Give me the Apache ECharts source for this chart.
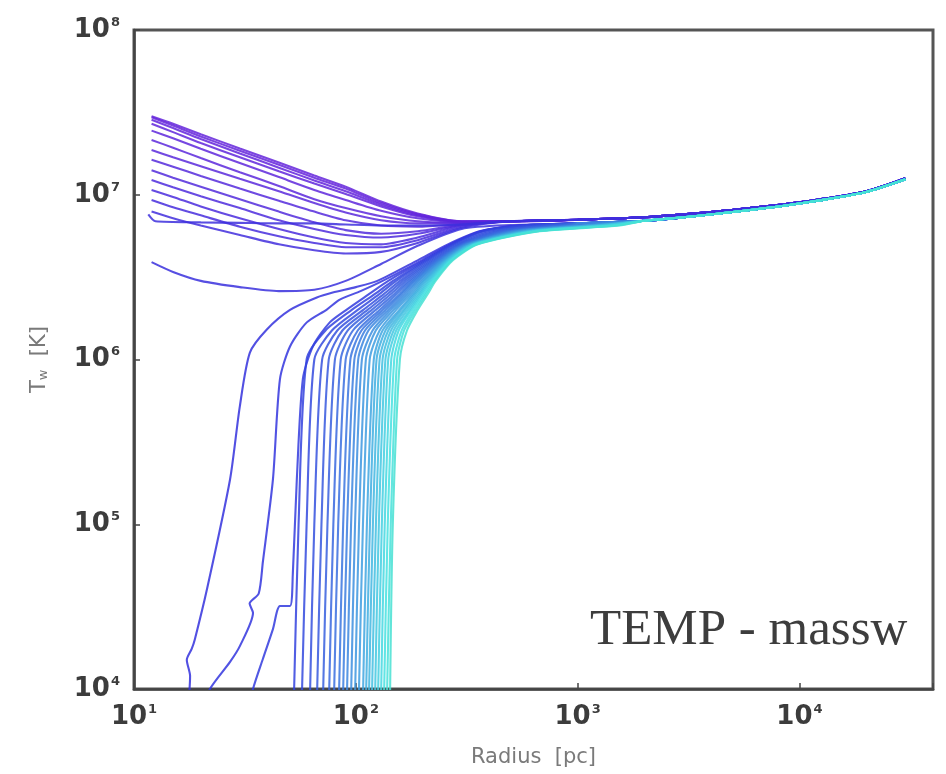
<!DOCTYPE html>
<html><head><meta charset="utf-8">
<script src="https://cdn.jsdelivr.net/npm/echarts@6/dist/echarts.min.js"></script>
<style>html,body{margin:0;padding:0;background:#fff}#c{width:946px;height:774px}</style>
</head><body><div id="c"></div>
<script>
// ---------- data (radius in pc, temperature in K; fan/outer T in units of 1e6 K) ----------
const FAN_R = [12, 15, 20, 30, 45, 65, 90, 130, 190, 300];
const FAN_T = [
  [30,   27,   23.3, 19.1, 15.7, 13.1, 11.2, 9.1, 7.7, 6.9],
  [29.5, 26.3, 22.6, 18.5, 15.2, 12.7, 10.9, 8.9, 7.6, 6.9],
  [28.5, 25.4, 21.8, 17.8, 14.6, 12.2, 10.5, 8.7, 7.5, 6.85],
  [27,   24,   20.6, 16.9, 13.9, 11.7, 10.1, 8.5, 7.4, 6.85],
  [24.5, 22,   19,   15.6, 12.8, 10.7, 9.3,  8.0, 7.2, 6.8],
  [21.5, 19.3, 16.7, 13.7, 11.3, 9.4,  8.3,  7.4, 6.9, 6.75],
  [18.7, 16.9, 14.9, 12.5, 10.5, 8.9,  7.8,  7.0, 6.7, 6.7],
  [16.3, 14.8, 13.0, 10.9, 9.2,  7.9,  7.0,  6.5, 6.4, 6.65],
  [14.1, 12.7, 11.2, 9.4,  7.9,  6.8,  6.1,  5.8, 6.0, 6.6],
  [12.3, 11.1, 9.8,  8.3,  7.0,  6.2,  5.7,  5.5, 5.8, 6.55],
  [10.7, 9.7,  8.5,  7.2,  6.2,  5.5,  5.1,  5.0, 5.5, 6.5],
  [9.3,  8.4,  7.5,  6.4,  5.6,  5.1,  4.8,  4.8, 5.3, 6.4],
  [7.9,  7.2,  6.5,  5.7,  5.0,  4.6,  4.4,  4.5, 5.1, 6.3]
];
const FLAT_R = [11.6, 12.5, 20, 30, 45, 65, 90, 130, 190, 300];
const FLAT_T = [7.6, 6.9, 6.8, 6.75, 6.7, 6.7, 6.6, 6.5, 6.5, 6.6];
const LOW_T  = [3.9, 3.4, 3.0, 2.75, 2.6, 2.65, 3.0, 3.8, 4.9, 6.2];   // on FAN_R

// first three collapsing profiles, [radius, T]
const DROP_A = [[17.6,8e3],[17.9,1.2e4],[17.3,1.5e4],[18.2,1.75e4],[18.8,2.0e4],[21.3,4.0e4],[27.1,1.87e5],[30.0,5.2e5],[33.3,1.1e6],[39.7,1.52e6],[50.5,2.0e6],[66.7,2.38e6],[78.7,2.55e6],[100,2.75e6],[125,3.0e6],[190,4.0e6],[260,5.0e6],[360,6.0e6],[540,6.5e6]];
const DROP_B = [[21.0,8e3],[22.0,1e4],[27.1,1.46e4],[30.0,1.82e4],[34.4,2.9e4],[33.2,3.3e4],[36.5,3.8e4],[38.1,5.9e4],[42.3,1.87e5],[45.5,7.6e5],[50.5,1.2e6],[60.1,1.68e6],[74.0,2.01e6],[84.7,2.31e6],[105,2.6e6],[132,3.0e6],[198,4.0e6],[266,5.0e6],[366,6.0e6],[550,6.5e6]];
const DROP_C = [[33.5,8e3],[34.4,1e4],[38.1,1.52e4],[42.3,2.31e4],[45.5,3.19e4],[50.5,3.19e4],[52,5e4],[54.2,1.87e5],[57.7,7.6e5],[64.0,1.2e6],[76.3,1.68e6],[91.0,2.01e6],[115,2.5e6],[140,3.0e6],[203,4.0e6],[270,5.0e6],[370,6.0e6],[555,6.5e6]];

// remaining collapsing profiles: radius at which each reaches these temperatures
const DROP_LEVELS = [8e3, 1e5, 1e6, 1.5e6, 2e6, 2.5e6, 3e6, 4e6, 5e6, 6e6, 6.5e6];
const DROP_R = [
  [52.5, 55.2, 60,    73,  95.9, 122, 147, 207, 274, 373, 560],
  [57,   60,   65,    78,  102,  128, 152, 211, 279, 392, 610],
  [62,   65,   70.5,  82.5,108,  134, 158, 216, 286, 412, 664],
  [66.7, 70,   75.5,  87,  113,  139, 163, 221, 291, 431, 714],
  [71,   74.5, 80.5,  92,  118,  144, 168, 225, 296, 447, 760],
  [75.6, 79.2, 85.5,  97,  123,  149, 173, 229, 301, 463, 811],
  [79.6, 83.3, 90,    102, 128,  153, 177, 232, 305, 478, 855],
  [83.8, 87.7, 94.5,  106, 132,  158, 181, 236, 309, 493, 902],
  [87.4, 91.4, 98.5,  110, 136,  161, 184, 238, 313, 505, 940],
  [91,   95.2, 102.5, 114, 140,  165, 188, 241, 316, 518, 980],
  [95,   99.2, 106.5, 119, 144,  169, 191, 244, 319, 531, 1023],
  [99,   103.4,111,   123, 148,  173, 195, 247, 323, 543, 1067],
  [103,  107.7,115.5, 128, 152,  177, 199, 250, 327, 557, 1114],
  [107.5,112.2,120.5, 132, 157,  181, 202, 253, 330, 571, 1161],
  [111,  115.8,124,   136, 160,  184, 205, 255, 333, 582, 1199],
  [114.4,119.4,128,   140, 164,  187, 208, 257, 335, 593, 1236],
  [118,  123.2,132,   144, 167,  191, 211, 259, 338, 604, 1279],
  [121.9,127,  136,   148, 171,  194, 214, 262, 340, 615, 1318],
  [125.7,131,  140,   152, 175,  197, 217, 264, 344, 627, 1361],
  [129.7,135,  144.5, 156, 178,  200, 220, 267, 346, 638, 1406],
  [133.8,139.3,149,   161, 182,  204, 223, 269, 349, 650, 1452],
  [138,  143.7,153.5, 165, 186,  207, 226, 271, 352, 662, 1496],
  [142.5,146.8,158,   170, 190,  211, 229, 274, 355, 675, 1545]
];

// common outer profile
const OUTER_R = [500, 1000, 2000, 3000, 5000, 10000, 20000, 30000];
const OUTER_FAN_T  = [6.9, 7.05, 7.3, 7.6, 8.1, 9.0, 10.5, 12.6];
const OUTER_DROP_T = [6.55, 6.7, 6.95, 7.3, 7.85, 8.85, 10.4, 12.4];

const X_TICKS = [10, 100, 1000, 10000];
const Y_TICKS = [1e4, 1e5, 1e6, 1e7, 1e8];

// ---------- build ----------
const M = 1e6;
function outer(tArr, after) {
  return OUTER_R.map((r, i) => [r, tArr[i] * M]).filter(p => p[0] > after);
}
const curves = [];
FAN_T.forEach(row => curves.push(FAN_R.map((r, i) => [r, row[i] * M]).concat(outer(OUTER_FAN_T, 300))));
curves.push(FLAT_R.map((r, i) => [r, FLAT_T[i] * M]).concat(outer(OUTER_FAN_T, 300)));
curves.push(FAN_R.map((r, i) => [r, LOW_T[i] * M]).concat(outer(OUTER_DROP_T, 300)));
[DROP_A, DROP_B, DROP_C].forEach(d => curves.push(d.concat(outer(OUTER_DROP_T, d[d.length - 1][0]))));
DROP_R.forEach(row => {
  const pts = DROP_LEVELS.map((T, i) => [row[i], T]);
  curves.push(pts.concat(outer(OUTER_DROP_T, pts[pts.length - 1][0])));
});

function hsl2hex(h, s, l) {
  s /= 100; l /= 100;
  const k = n => (n + h / 30) % 12;
  const a = s * Math.min(l, 1 - l);
  const f = n => l - a * Math.max(-1, Math.min(k(n) - 3, Math.min(9 - k(n), 1)));
  const to = v => Math.round(v * 255).toString(16).padStart(2, '0');
  return '#' + to(f(0)) + to(f(8)) + to(f(4));
}
const N = curves.length;
const series = curves.map((data, i) => {
  const t = i / (N - 1);
  const h = 261 - 87 * Math.pow(t, 1.5);
  const col = hsl2hex(h, 72, 50 + 8 * t);
  return {
    type: 'line', data, showSymbol: false, smooth: 0.25, clip: true,
    silent: true, animation: false,
    lineStyle: { color: col, width: 2.1, opacity: 0.85 }
  };
});

const isTick = (v, list) => list.some(t => Math.abs(Math.log10(v) - Math.log10(t)) < 1e-6);
function fmt(list) {
  return v => isTick(v, list) ? '{b|10}{s|' + Math.round(Math.log10(v)) + '}' : '';
}
const rich = {
  b: { fontSize: 26, fontWeight: 'bold', fontFamily: 'DejaVu Sans', color: '#3c3c3c' },
  s: { fontSize: 13, fontWeight: 'bold', fontFamily: 'DejaVu Sans', color: '#3c3c3c', verticalAlign: 'top', padding: [0, 0, 15, 1] }
};

const chart = echarts.init(document.getElementById('c'), null, { renderer: 'canvas' });
chart.setOption({
  backgroundColor: '#fff',
  animation: false,
  grid: { left: 134, right: 13, top: 30, bottom: 85, containLabel: false, show: true, borderColor: '#555', borderWidth: 3, backgroundColor: 'transparent' },
  xAxis: {
    type: 'log', logBase: 10, min: 10, max: 40000, interval: 1,
    name: 'Radius  [pc]', nameLocation: 'middle', nameGap: 58,
    nameTextStyle: { fontSize: 21, color: '#7a7a7a', fontFamily: 'DejaVu Sans' },
    axisLine: { show: true, lineStyle: { color: '#444', width: 2.5 } },
    axisTick: { show: true, inside: true, length: 6, lineStyle: { color: '#444', width: 1.5 } },
    splitLine: { show: false },
    axisLabel: { formatter: fmt(X_TICKS), rich, margin: 14 }
  },
  yAxis: {
    type: 'log', logBase: 10, min: 1e4, max: 1e8, interval: 1,
    name: '{t|T}{w|w}{t|  [K]}', nameLocation: 'middle', nameGap: 84, nameRotate: 90,
    nameTextStyle: { rich: {
      t: { fontSize: 21, color: '#7a7a7a', fontFamily: 'DejaVu Sans' },
      w: { fontSize: 13, color: '#7a7a7a', fontFamily: 'DejaVu Sans', verticalAlign: 'bottom' }
    } },
    axisLine: { show: true, lineStyle: { color: '#444', width: 2.5 } },
    axisTick: { show: true, inside: true, length: 6, lineStyle: { color: '#444', width: 1.5 } },
    splitLine: { show: false },
    axisLabel: { formatter: fmt(Y_TICKS), rich, margin: 14 }
  },
  graphic: [{
    type: 'text', left: 590, top: 605, z: 100,
    style: { text: 'TEMP - massw', font: '51px "Liberation Serif"', fill: '#3d3d3d' }
  }],
  series
});
</script></body></html>
